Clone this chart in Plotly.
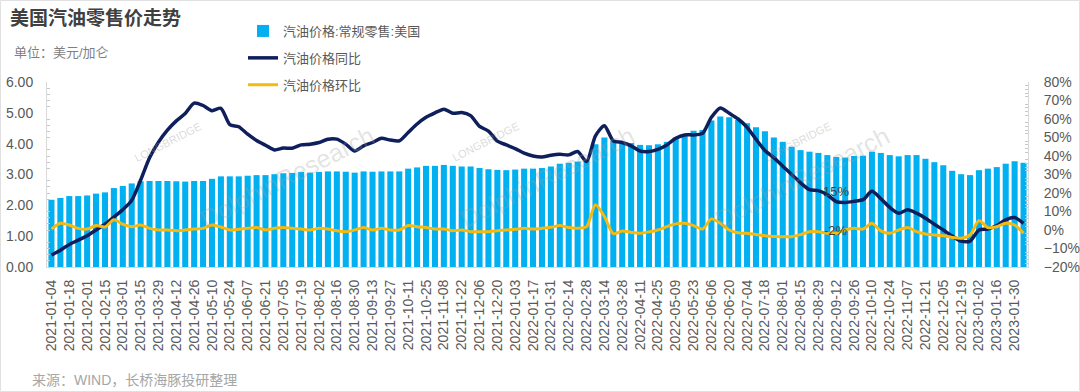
import plotly.graph_objects as go
import pandas as pd

# weekly categories (Mondays), 2021-01-04 .. 2023-02-06
dates = pd.date_range("2021-01-04", periods=110, freq="7D").strftime("%Y-%m-%d").tolist()
tick_labels = dates[::2]

# 汽油价格:常规零售:美国 (美元/加仑)
price = [2.18, 2.24, 2.30, 2.30, 2.32, 2.38, 2.42, 2.56, 2.63, 2.71,
         2.78, 2.79, 2.79, 2.79, 2.78, 2.77, 2.79, 2.79, 2.86, 2.94,
         2.94, 2.94, 2.96, 2.98, 2.98, 3.01, 3.04,
         3.05, 3.08, 3.06, 3.08, 3.10, 3.10, 3.09, 3.06, 3.10, 3.09,
         3.10, 3.10, 3.10, 3.19, 3.23, 3.28, 3.28, 3.31, 3.28, 3.26,
         3.26, 3.21, 3.17, 3.15, 3.14, 3.16, 3.19,
         3.19, 3.21, 3.26, 3.35, 3.38, 3.42, 3.49, 3.98, 4.20, 4.09,
         4.04, 4.02, 3.96, 3.95, 3.98, 4.06, 4.20, 4.31, 4.42, 4.44,
         4.75, 4.88, 4.86, 4.77, 4.66, 4.53, 4.40,
         4.20, 4.06, 3.90, 3.79, 3.74, 3.70, 3.63, 3.57, 3.55, 3.60,
         3.61, 3.74, 3.70, 3.63, 3.59, 3.63, 3.63, 3.51, 3.40, 3.30,
         3.12, 3.01, 2.98, 3.14, 3.19, 3.24, 3.35, 3.43, 3.38]

# 汽油价格同比 (%)
yoy = [-13.5, -10.9, -7.8, -5.5, -3.1, 0.0, 3.1, 7.0, 11.0, 16.0,
       27.0, 39.0, 47.5, 54.0, 59.0, 63.0, 68.6, 67.3, 64.5, 65.8,
       57.0, 55.8, 51.8, 48.4, 45.8, 43.3, 44.3,
       44.2, 46.0, 46.4, 47.3, 49.1, 49.1, 46.4, 42.7, 45.5, 47.3,
       49.6, 48.6, 48.2, 52.7, 57.3, 60.9, 63.3, 65.3, 63.1, 63.5,
       61.8, 56.0, 53.5, 48.0, 46.0, 44.0, 41.5,
       40.0, 39.5, 40.4, 40.9, 40.6, 42.4, 37.0, 50.9, 56.4, 48.2,
       47.3, 45.5, 42.7, 42.4, 43.6, 46.0, 49.6, 51.4, 51.4, 52.2,
       60.9, 66.0, 63.1, 60.0, 55.5, 49.1, 43.0,
       39.1, 34.5, 30.0, 25.5, 21.8, 21.3, 19.1, 15.3, 14.9, 15.5,
       16.4, 20.9, 16.9, 12.2, 9.1, 10.9, 9.1, 6.4, 3.1, 0.0,
       -3.3, -6.0, -6.0, 0.0, 0.5, 2.4, 5.5, 6.7, 3.6]

# 汽油价格环比 (%)
mom = [0.5, 3.6, 2.7, 0.9, 0.5, 2.4, 1.6, 5.5, 3.1, 1.8,
       2.7, 0.9, 0.0, 0.0, -0.4, 0.0, 0.5, 0.9, 2.7, 1.6,
       0.0, 0.4, 0.9, 1.3, 0.0, 0.9, 1.3,
       0.9, 0.5, 0.0, 0.9, 0.5, -0.4, -0.9, 0.0, 1.3, 0.0,
       0.9, 0.0, 0.0, 2.4, 1.8, 1.3, 0.5, 0.5, -0.4, 0.0,
       -0.9, -0.9, -0.9, -0.4, 0.0, 0.4, 0.9,
       0.5, 0.9, 1.5, 2.4, 1.3, 0.9, 1.8, 13.6, 7.3, -2.0,
       -0.5, -1.3, -1.8, -1.0, 0.0, 1.8, 3.3, 3.6, 2.4, 0.5,
       6.0, 3.6, 0.0, -1.5, -1.8, -2.4, -3.1,
       -3.5, -3.6, -3.6, -2.5, -1.0, -1.0, -1.8, -1.8, 0.0, 0.9,
       0.5, 3.6, -0.5, -1.8, 0.0, 1.3, -0.9, -2.2, -2.7, -3.1,
       -4.0, -4.4, -2.7, 5.1, 1.3, 1.8, 3.6, 2.7, -1.8]

label_idx = 88
label_yoy = "15%"
label_mom = "-2%"

FONT = "Liberation Sans, Noto Sans CJK SC, sans-serif"
GRAY = "#595959"

fig = go.Figure()
fig.add_trace(go.Bar(x=dates, y=price, name="汽油价格:常规零售:美国",
                     marker=dict(color="#00B0F0", line=dict(width=0)),
                     width=0.68, legendgroup="a", yaxis="y"))
fig.add_trace(go.Scatter(x=dates, y=yoy, name="汽油价格同比", mode="lines",
                         line=dict(color="#0E1F5C", width=3.5, shape="spline", smoothing=0.7),
                         legendgroup="b", yaxis="y2"))
fig.add_trace(go.Scatter(x=dates, y=mom, name="汽油价格环比", mode="lines",
                         line=dict(color="#F5B910", width=3, shape="spline", smoothing=0.7),
                         legendgroup="c", yaxis="y2"))

W, H = 1080, 392
L, R, T, B = 47, 52, 82, 125
pw, ph = W - L - R, H - T - B

def px(xp):
    return (xp - L) / pw

def py(yp):
    return (H - B - yp) / ph

annotations = [
    dict(text="<b>美国汽油零售价走势</b>", x=px(8), y=py(18), xref="paper", yref="paper",
         xanchor="left", yanchor="middle", showarrow=False,
         font=dict(size=19, color="#404040", family=FONT)),
    dict(text="单位：美元/加仑", x=px(12), y=py(52), xref="paper", yref="paper",
         xanchor="left", yanchor="middle", showarrow=False,
         font=dict(size=13, color="#7F7F7F", family=FONT)),
    dict(text="来源：WIND，长桥海豚投研整理", x=px(30), y=py(380), xref="paper", yref="paper",
         xanchor="left", yanchor="middle", showarrow=False,
         font=dict(size=14, color="#A6A6A6", family=FONT)),
    dict(text=label_yoy, x=dates[label_idx], y=yoy[label_idx], xref="x", yref="y2",
         yshift=10, showarrow=False, font=dict(size=13, color="#404040", family=FONT)),
    dict(text=label_mom, x=dates[label_idx], y=mom[label_idx], xref="x", yref="y2",
         yshift=3, showarrow=False, font=dict(size=13, color="#404040", family=FONT)),
]

# faint watermarks
for cx in (130, 485, 835):
    annotations.append(dict(text="LONGBRIDGE", x=px(cx), y=py(117), xref="paper", yref="paper",
                            showarrow=False, textangle=-27,
                            font=dict(size=11, color="rgba(160,160,160,0.4)", family=FONT)))
    annotations.append(dict(text="DolphinResearch", x=px(cx + 62), y=py(118), xref="paper", yref="paper",
                            showarrow=False, textangle=-27,
                            font=dict(size=25, color="rgba(160,160,160,0.3)", family=FONT)))

fig.update_layout(
    width=W, height=H,
    margin=dict(l=L, r=R, t=T, b=B, pad=0, autoexpand=False),
    paper_bgcolor="white", plot_bgcolor="white",
    font=dict(family=FONT, color=GRAY),
    bargap=0.3,
    showlegend=True,
    legend=dict(xref="container", yref="container", x=243 / W, y=1 - 16 / H,
                xanchor="left", yanchor="top",
                orientation="v", traceorder="grouped", tracegroupgap=7,
                bgcolor="rgba(0,0,0,0)", font=dict(size=13, color=GRAY, family=FONT),
                itemwidth=30),
    xaxis=dict(type="category", range=[-0.5, len(dates) - 0.5], automargin=False,
               tickmode="array", tickvals=tick_labels, ticktext=tick_labels,
               tickangle=-90, tickfont=dict(size=14, color=GRAY),
               showline=True, linecolor="#D9D9D9", linewidth=1,
               ticks="", showgrid=False, ticklabelstandoff=6),
    yaxis=dict(range=[0, 6], dtick=1, tickformat=".2f", automargin=False,
               tickfont=dict(size=14, color=GRAY),
               showline=True, linecolor="#D9D9D9", linewidth=1,
               showgrid=False, zeroline=False, ticks="", ticklabelstandoff=10,
               minor=dict(dtick=0.2, ticks="inside", ticklen=3, tickcolor="#C8C8C8")),
    yaxis2=dict(range=[-20, 80], dtick=10, ticksuffix="%", overlaying="y", side="right",
                automargin=False, tickfont=dict(size=14, color=GRAY),
                showline=True, linecolor="#D9D9D9", linewidth=1,
                showgrid=False, zeroline=False, ticks="", ticklabelstandoff=12,
                minor=dict(dtick=2, ticks="inside", ticklen=3, tickcolor="#C8C8C8")),
    annotations=annotations,
    shapes=[dict(type="rect", xref="paper", yref="paper",
                 x0=px(0.5), x1=px(W - 0.5), y0=py(H - 0.5), y1=py(0.5),
                 line=dict(color="#E0E0E0", width=1), fillcolor="rgba(0,0,0,0)", layer="below")],
)

fig.write_html("out.html", config={"displayModeBar": False},
               post_script="document.body.style.margin='0';document.body.style.overflow='hidden';")
